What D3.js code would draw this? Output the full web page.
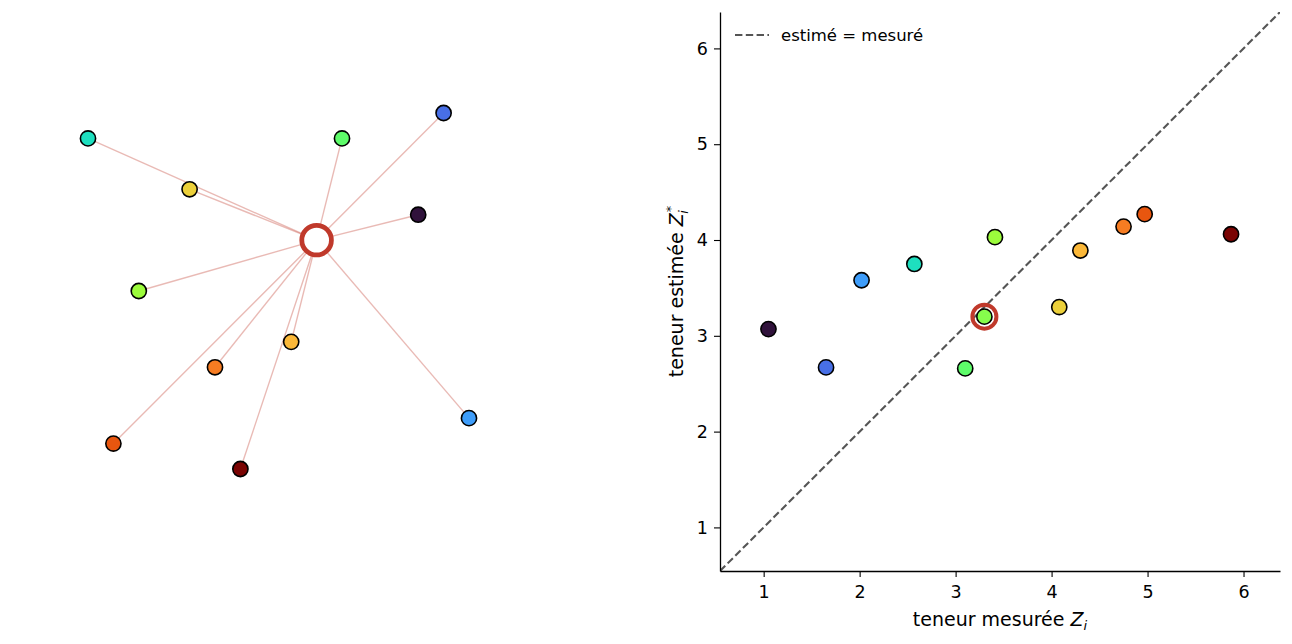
<!DOCTYPE html>
<html><head><meta charset="utf-8">
<script src="https://cdn.jsdelivr.net/npm/d3@7"></script>
<style>
body{margin:0;background:#fff;}
svg{display:block;font-family:"DejaVu Sans",sans-serif;}
</style></head>
<body><svg id="c" width="1292" height="644"></svg>
<script>
// ---- data ----
const names     = ["p1","p2","p3","p4","p5","p6","p7","p8","p9","p10","p11"];
const posX      = [0, 4, 10, 14, 13, 2, 8, 5, 1, 6, 15];
const posY      = [13, 11, 13, 14, 10, 7, 5, 4, 1, 0, 2];
const measured  = [2.57, 4.08, 3.10, 1.65, 1.05, 3.41, 4.30, 4.75, 4.97, 5.87, 2.02];
const estimated = [3.75, 3.30, 2.66, 2.67, 3.07, 4.03, 3.89, 4.14, 4.27, 4.06, 3.58];
const target = {x: 9, y: 9, measured: 3.30, estimated: 3.20};
const xTicks = [1, 2, 3, 4, 5, 6];
const yTicks = [1, 2, 3, 4, 5, 6];
const lims = [0.545, 6.38];
// turbo colormap samples (colour by measured value)
const turboValues = [1.05, 1.65, 2.02, 2.57, 3.10, 3.30, 3.41, 4.08, 4.30, 4.75, 4.97, 5.87];
const turboColors = ["#30123b","#486fe6","#3e9dfa","#1edfbf","#5efc6a","#86fd4c","#9cfc3c",
                     "#ecd03a","#fbb839","#f67c22","#e8560f","#7a0403"];

const svg = d3.select("#c");
const pts = names.map((n,i)=>({n, x:posX[i], y:posY[i], z:measured[i], e:estimated[i]}));
const color = d3.scaleLinear().domain(turboValues).range(turboColors).interpolate(d3.interpolateRgb);
const RED = "#c0392b";

// ---- left panel ----
const lx = d3.scaleLinear().domain([0,15]).range([88,469]);
const ly = d3.scaleLinear().domain([0,14]).range([469,113]);
const L = svg.append("g");
L.selectAll("line.nb").data(pts).join("line")
  .attr("x1", lx(target.x)).attr("y1", ly(target.y))
  .attr("x2", d=>lx(d.x)).attr("y2", d=>ly(d.y))
  .attr("stroke", RED).attr("stroke-opacity", 0.35).attr("stroke-width", 1.4);
L.selectAll("circle.pt").data(pts).join("circle")
  .attr("cx", d=>lx(d.x)).attr("cy", d=>ly(d.y)).attr("r", 7.6)
  .attr("fill", d=>color(d.z)).attr("stroke", "#000").attr("stroke-width", 1.6);
L.append("circle").attr("cx", lx(target.x)).attr("cy", ly(target.y)).attr("r", 14.8)
  .attr("fill", "#fff").attr("stroke", RED).attr("stroke-width", 4.8);

// ---- right panel ----
const m = {l:720, r:1280, t:12, b:571};
const x = d3.scaleLinear().domain(lims).range([m.l, m.r]);
const y = d3.scaleLinear().domain(lims).range([m.b, m.t]);
const R = svg.append("g");
R.append("defs").append("clipPath").attr("id","clip").append("rect")
  .attr("x", m.l).attr("y", m.t).attr("width", m.r-m.l).attr("height", m.b-m.t);
R.append("line").attr("clip-path","url(#clip)")
  .attr("x1", x(lims[0])).attr("y1", y(lims[0])).attr("x2", x(lims[1])).attr("y2", y(lims[1]))
  .attr("stroke", "#555").attr("stroke-width", 2.1).attr("stroke-dasharray", "7.4,3.4");

const xa = R.append("g").attr("transform", `translate(0,${m.b})`)
  .call(d3.axisBottom(x).tickValues(xTicks).tickFormat(d3.format("d")).tickSize(6).tickSizeOuter(0).tickPadding(4));
const ya = R.append("g").attr("transform", `translate(${m.l},0)`)
  .call(d3.axisLeft(y).tickValues(yTicks).tickFormat(d3.format("d")).tickSize(6).tickSizeOuter(0).tickPadding(6));
[xa, ya].forEach(a=>{
  a.attr("font-size", 17.5).attr("font-family", "DejaVu Sans");
  a.selectAll("text").attr("fill","#000");
  a.select(".domain").attr("stroke-width", 1.3);
  a.selectAll(".tick line").attr("stroke-width", 1.1);
});
xa.selectAll("text").attr("dy", "0.97em");

R.selectAll("circle.pt").data(pts).join("circle")
  .attr("cx", d=>x(d.z)).attr("cy", d=>y(d.e)).attr("r", 7.6)
  .attr("fill", d=>color(d.z)).attr("stroke", "#000").attr("stroke-width", 1.6);
R.append("circle").attr("cx", x(target.measured)).attr("cy", y(target.estimated)).attr("r", 12)
  .attr("fill", "none").attr("stroke", RED).attr("stroke-width", 4);
R.append("circle").attr("cx", x(target.measured)).attr("cy", y(target.estimated)).attr("r", 7.6)
  .attr("fill", color(target.measured)).attr("stroke", "#000").attr("stroke-width", 1.6);

// legend
R.append("line").attr("x1", 735).attr("x2", 769).attr("y1", 35).attr("y2", 35)
  .attr("stroke", "#555").attr("stroke-width", 2.1).attr("stroke-dasharray", "7.4,3.4");
R.append("text").attr("x", 781).attr("y", 41).attr("font-size", 16.5).text("estimé = mesuré");

// axis labels
const xl = R.append("text").attr("x", (m.l+m.r)/2).attr("y", 626).attr("text-anchor","middle").attr("font-size", 19);
xl.append("tspan").text("teneur mesurée ");
xl.append("tspan").attr("font-style","italic").text("Z");
xl.append("tspan").attr("font-style","italic").attr("font-size", 13).attr("dy", 4).text("i");

const yl = R.append("text").attr("transform", `translate(683,${(m.t+m.b)/2}) rotate(-90)`)
  .attr("text-anchor","middle").attr("font-size", 19);
yl.append("tspan").text("teneur estimée ");
yl.append("tspan").attr("font-style","italic").text("Z");
yl.append("tspan").attr("font-style","italic").attr("font-size", 13).attr("dx", 1).attr("dy", -8).text("*");
yl.append("tspan").attr("font-style","italic").attr("font-size", 13).attr("dx", -8).attr("dy", 13).text("i");
</script></body></html>
